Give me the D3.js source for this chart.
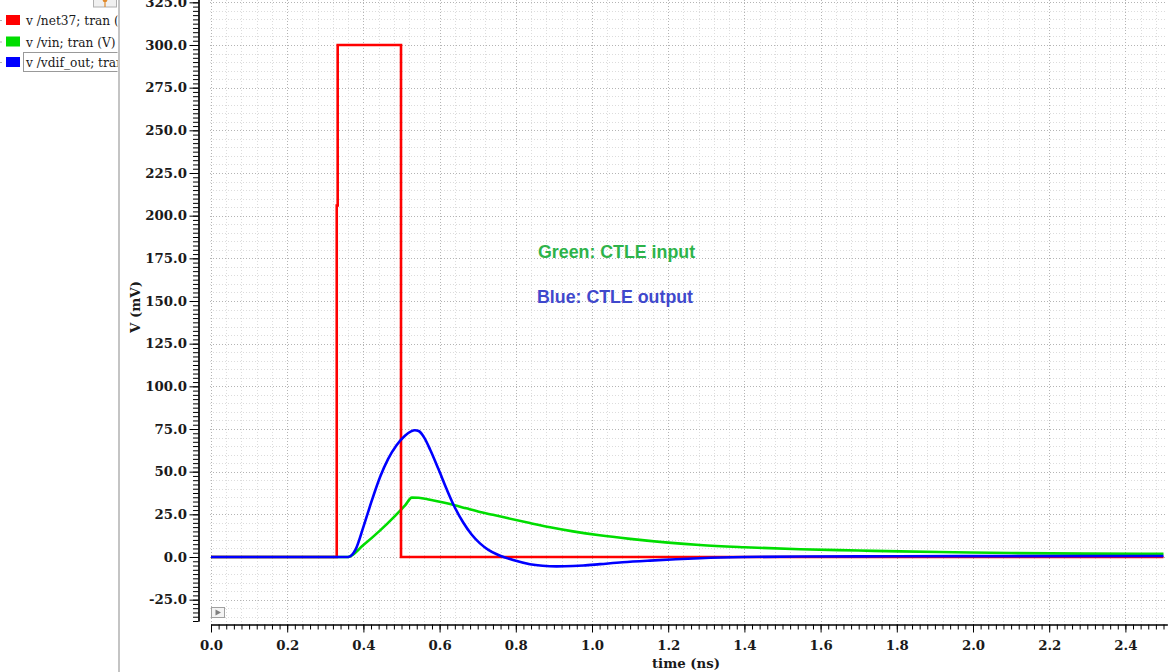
<!DOCTYPE html>
<html>
<head>
<meta charset="utf-8">
<script src="https://cdn.jsdelivr.net/npm/d3@7"></script>
<style>
  html, body { margin: 0; padding: 0; background: #ffffff; }
  svg { display: block; }
</style>
</head>
<body>
<svg id="chart" width="1170" height="672"></svg>
<script>
// ---------------- DATA ----------------
const legendNames = ["v /net37; tran (V)", "v /vin; tran (V)", "v /vdif_out; tran (V)"];
const seriesColors = ["#ff0000", "#00dd00", "#0000ff"];

// red: v /net37 (mV vs ns)
const redT = [0, 0.330, 0.330, 0.3325, 0.3325, 0.4987, 0.4987, 2.5];
const redV = [0, 0, 206, 206, 300, 300, 0, 0];

// green: v /vin (CTLE input)
const greenT = [0, 0.360, 0.400, 0.444, 0.480, 0.510, 0.527, 0.545, 0.575, 0.610, 0.640, 0.670, 0.706, 0.740, 0.772,
                0.837, 0.890, 0.950, 1.020, 1.100, 1.200, 1.283, 1.400, 1.546, 1.700, 1.808, 1.950, 2.100, 2.300, 2.500];
const greenV = [0, 0, 7.0, 15.6, 23.4, 30.4, 34.8, 34.7, 33.5, 31.9, 30.3, 28.5, 26.4, 24.7, 23.1,
                19.9, 17.4, 15.0, 12.7, 10.6, 8.4, 7.0, 5.7, 4.5, 3.8, 3.3, 2.8, 2.3, 2.0, 1.9];

// blue: v /vdif_out (CTLE output)
const blueT = [0, 0.360, 0.370, 0.380, 0.400, 0.422, 0.444, 0.465, 0.487, 0.509, 0.525, 0.535, 0.545, 0.560, 0.575,
               0.597, 0.619, 0.640, 0.662, 0.684, 0.706, 0.728, 0.750, 0.772, 0.793, 0.837, 0.870, 0.907, 0.950, 0.977,
               1.021, 1.080, 1.152, 1.220, 1.283, 1.400, 1.546, 1.800, 2.000, 2.500];
const blueV = [0, 0, 1.2, 4.6, 17.6, 33.0, 47.0, 57.5, 65.5, 71.0, 73.6, 74.3, 73.8, 69.8, 63.0,
               51.5, 39.5, 29.0, 20.2, 13.2, 8.0, 4.2, 1.6, -0.3, -1.8, -4.2, -5.1, -5.5, -5.3, -5.0,
               -4.2, -3.1, -2.1, -1.3, -0.7, 0.0, 0.3, 0.4, 0.5, 0.6];

const xTickValues = [0, 0.2, 0.4, 0.6, 0.8, 1.0, 1.2, 1.4, 1.6, 1.8, 2.0, 2.2, 2.4];
const xTickLabels = ["0.0", "0.2", "0.4", "0.6", "0.8", "1.0", "1.2", "1.4", "1.6", "1.8", "2.0", "2.2", "2.4"];
const yTickValues = [-25, 0, 25, 50, 75, 100, 125, 150, 175, 200, 225, 250, 275, 300, 325];
const yTickLabels = ["-25.0", "0.0", "25.0", "50.0", "75.0", "100.0", "125.0", "150.0", "175.0", "200.0",
                     "225.0", "250.0", "275.0", "300.0", "325.0"];
const xTitle = "time (ns)";
const yTitle = "V (mV)";
const notes = ["Green: CTLE input", "Blue: CTLE output"];

// ---------------- CHART ----------------
const svg = d3.select("#chart");
const W = 1170, H = 672;
svg.append("rect").attr("width", W).attr("height", H).attr("fill", "#ffffff");

const plotLeft = 210, plotRight = 1166, plotTop = 0, plotBottom = 622;
const x = d3.scaleLinear().domain([0, 2.5]).range([211, 1163.5]);
const y = d3.scaleLinear().domain([0, 300]).range([557, 45]);

// grid
const grid = svg.append("g");
const xMinorGrid = d3.range(0, 63).map(i => i * 0.04);
const yMinorGrid = d3.range(-7, 66).map(i => i * 5);
grid.selectAll("line.vx").data(xMinorGrid).enter().append("line")
  .attr("x1", d => Math.round(x(d)) + 0.5).attr("x2", d => Math.round(x(d)) + 0.5)
  .attr("y1", plotTop).attr("y2", plotBottom)
  .attr("stroke", (d, i) => i % 5 === 0 ? "#b4b4b4" : "#dcdcdc")
  .attr("stroke-width", 1).attr("stroke-dasharray", "1,2");
grid.selectAll("line.hy").data(yMinorGrid).enter().append("line")
  .attr("x1", plotLeft).attr("x2", plotRight)
  .attr("y1", d => Math.round(y(d)) + 0.5).attr("y2", d => Math.round(y(d)) + 0.5)
  .attr("stroke", d => d % 25 === 0 ? "#b4b4b4" : "#dcdcdc")
  .attr("stroke-width", 1).attr("stroke-dasharray", "1,2");

// series
const lineLin = d3.line().x(d => x(d[0])).y(d => y(d[1])).curve(d3.curveLinear);
const lineSmooth = d3.line().x(d => x(d[0])).y(d => y(d[1])).curve(d3.curveMonotoneX);
const zip = (a, b) => a.map((v, i) => [v, b[i]]);

const plot = svg.append("g");
plot.append("path").datum(zip(greenT, greenV)).attr("d", lineSmooth)
  .attr("fill", "none").attr("stroke", seriesColors[1]).attr("stroke-width", 2.6);
plot.append("path").datum(zip(redT, redV)).attr("d", lineLin)
  .attr("fill", "none").attr("stroke", seriesColors[0]).attr("stroke-width", 2.6);
plot.append("path").datum(zip(blueT, blueV)).attr("d", lineSmooth)
  .attr("fill", "none").attr("stroke", seriesColors[2]).attr("stroke-width", 2.6);

// annotations
svg.append("text").attr("x", 538).attr("y", 258).text(notes[0])
  .attr("font-family", "Liberation Sans, Arial, sans-serif").attr("font-weight", "bold")
  .attr("font-size", 17.8).attr("fill", "#2db34a");
svg.append("text").attr("x", 537).attr("y", 303).text(notes[1])
  .attr("font-family", "Liberation Sans, Arial, sans-serif").attr("font-weight", "bold")
  .attr("font-size", 17.8).attr("fill", "#3f48cc");

// small play button
const btn = svg.append("g");
btn.append("rect").attr("x", 211.5).attr("y", 607.5).attr("width", 13).attr("height", 10)
  .attr("fill", "#f4f4f4").attr("stroke", "#a0a0a0");
btn.append("path").attr("d", "M215.5,609.5 L221,612.5 L215.5,615.5 Z").attr("fill", "#808080");

// axes
const serif = "DejaVu Serif, serif";
const xA = d3.scaleLinear().domain([0, 2.51]).range([x(0), x(2.51)]);
const yA = d3.scaleLinear().domain([-37.5, 326.7]).range([y(-37.5), y(326.7)]);

const xMinor = d3.range(0, 126).map(i => i * 0.02);
const yMinor = d3.range(-15, 131).map(i => i * 2.5);

const gxMinor = svg.append("g").attr("transform", "translate(0,624.5)")
  .call(d3.axisBottom(xA).tickValues(xMinor).tickSize(5).tickSizeOuter(0).tickFormat(""));
const gx = svg.append("g").attr("transform", "translate(0,624.5)")
  .call(d3.axisBottom(xA).tickValues(xTickValues).tickSize(8).tickSizeOuter(0).tickPadding(8)
    .tickFormat((d, i) => xTickLabels[i]));
const gyMinor = svg.append("g").attr("transform", "translate(198.5,0)")
  .call(d3.axisLeft(yA).tickValues(yMinor).tickSize(5.5).tickSizeOuter(0).tickFormat(""));
const gy = svg.append("g").attr("transform", "translate(198.5,0)")
  .call(d3.axisLeft(yA).tickValues(yTickValues).tickSize(9).tickSizeOuter(0).tickPadding(2.5)
    .tickFormat((d, i) => yTickLabels[i]));

[gx, gy, gxMinor, gyMinor].forEach(g => {
  g.selectAll("path.domain").attr("stroke", "#000").attr("stroke-width", 1.2);
  g.selectAll("line").attr("stroke", "#000").attr("stroke-width", 1);
  g.selectAll("text").attr("font-family", serif).attr("font-weight", "bold")
    .attr("font-size", 13.3).attr("fill", "#1a1a1a");
});

// axis titles
svg.append("text").attr("x", 686).attr("y", 668).attr("text-anchor", "middle").text(xTitle)
  .attr("font-family", serif).attr("font-weight", "bold").attr("font-size", 13.3).attr("fill", "#1a1a1a");
svg.append("text").attr("transform", "translate(140,307) rotate(-90)").attr("text-anchor", "middle").text(yTitle)
  .attr("font-family", serif).attr("font-weight", "bold").attr("font-size", 13.3).attr("fill", "#1a1a1a");

// left legend panel
const panel = svg.append("g");
panel.append("defs").append("clipPath").attr("id", "legclip")
  .append("rect").attr("x", 0).attr("y", 0).attr("width", 117.5).attr("height", H);
panel.append("rect").attr("x", 118).attr("y", 0).attr("width", 2).attr("height", H).attr("fill", "#c4c4c4");

// pin icon at top
const icon = panel.append("g");
icon.append("rect").attr("x", 93.5).attr("y", -4).attr("width", 23).attr("height", 11)
  .attr("fill", "#f0f0f0").attr("stroke", "#b0b0b0");
icon.append("path").attr("d", "M102,-1 L108,-1 L106.5,2 L105.6,2 L105.6,7 L104.4,7 L104.4,2 L103.5,2 Z")
  .attr("fill", "#e08a2c");

const legG = panel.append("g").attr("clip-path", "url(#legclip)");
const legRows = legendNames.map((n, i) => ({ name: n, color: seriesColors[i], i }));
const rowY = [15, 36.5, 57];
legG.selectAll("rect.sw").data(legRows).enter().append("rect")
  .attr("x", 6).attr("y", d => rowY[d.i]).attr("width", 14).attr("height", 10)
  .attr("fill", d => d.color);
legG.selectAll("rect.dot").data(legRows).enter().append("rect")
  .attr("x", 0.5).attr("y", d => rowY[d.i] + 5).attr("width", 1).attr("height", 1)
  .attr("fill", "#666");
legG.selectAll("text.lab").data(legRows).enter().append("text")
  .attr("x", 26).attr("y", d => rowY[d.i] + 10).text(d => d.name)
  .attr("font-family", serif).attr("font-size", 12.2).attr("fill", "#1a1a1a");
legG.append("rect").attr("x", 23.5).attr("y", 52.5).attr("width", 100).attr("height", 19)
  .attr("fill", "none").attr("stroke", "#333").attr("stroke-width", 1).attr("stroke-dasharray", "1,1");
</script>
</body>
</html>
